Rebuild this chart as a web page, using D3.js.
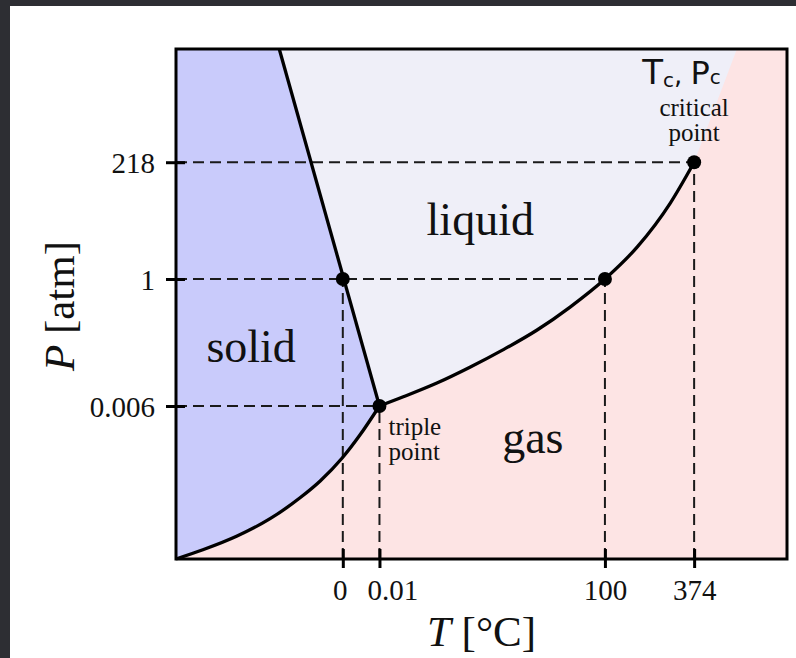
<!DOCTYPE html>
<html>
<head>
<meta charset="utf-8">
<script src="https://cdn.jsdelivr.net/npm/d3@7"></script>
<style>
  html, body { margin: 0; padding: 0; background: #2d2e33; }
  svg { display: block; }
  text { font-family: 'Liberation Serif', 'Times New Roman', serif; fill: #111; }
</style>
</head>
<body>
<figure id="phase" style="margin:0"></figure>
<script>
// schematic coordinates (0..100 on both axes)
const xTickPos = [27.3, 33.3, 70.2, 84.8];
const xTickLabels = ["0", "0.01", "100", "374"];
const yTickPos = [30.0, 54.9, 77.8];
const yTickLabels = ["0.006", "1", "218"];

// solid / gas boundary
const sublimation = [
  [0, 0], [4.4, 1.8], [10.0, 4.5], [15.4, 7.9], [20.3, 12.0],
  [23.6, 15.3], [27.2, 19.8], [30.1, 24.3], [33.3, 30.0]
];
// liquid / gas boundary
const vaporization = [
  [33.3, 30.0], [37.2, 31.8], [42.7, 34.5], [48.1, 37.6], [53.5, 41.0],
  [59.1, 44.9], [64.5, 49.4], [70.2, 54.9], [75.5, 61.2], [80.9, 69.8], [84.8, 77.8]
];
// solid / liquid boundary (straight)
const melting = [[33.3, 30.0], [16.9, 100]];
// edge of the liquid colour above the critical point
const supercritical = [[84.8, 77.8], [91.8, 100]];

// marked points: melting @1 atm, triple, boiling @1 atm, critical
const keyPoints = [[27.3, 54.9], [33.3, 30.0], [70.2, 54.9], [84.8, 77.8]];

const regionLabels = [
  { text: "solid", x: 12.3, y: 38.7 },
  { text: "liquid", x: 49.8, y: 63.5 },
  { text: "gas", x: 58.4, y: 20.8 }
];

const W = 796, H = 658;
const margin = { left: 176, top: 49, right: 9, bottom: 99 };
const width = W - margin.left - margin.right;
const height = H - margin.top - margin.bottom;

const colSolid = "#c9cbfb", colLiquid = "#efeff8", colGas = "#fde4e4";

const svg = d3.select("figure#phase")
  .append("svg")
  .attr("width", W)
  .attr("height", H);

// white sheet on the dark screenshot background
svg.append("rect")
  .attr("x", 10).attr("y", 6)
  .attr("width", W - 10).attr("height", H - 6)
  .attr("fill", "#ffffff");

const g = svg.append("g")
  .attr("transform", "translate(" + margin.left + "," + margin.top + ")");

const x = d3.scaleLinear().domain([0, 100]).range([0, width]);
const y = d3.scaleLinear().domain([0, 100]).range([height, 0]);

const curve = d3.line()
  .x(d => x(d[0]))
  .y(d => y(d[1]))
  .curve(d3.curveMonotoneX);
const straight = d3.line()
  .x(d => x(d[0]))
  .y(d => y(d[1]));

// regions
g.append("rect")
  .attr("width", width).attr("height", height)
  .attr("fill", colGas);

g.append("path")
  .attr("d", curve(sublimation) +
    "L" + x(melting[1][0]) + "," + y(melting[1][1]) +
    "L" + x(0) + "," + y(100) + "Z")
  .attr("fill", colSolid);

g.append("path")
  .attr("d", curve(vaporization) +
    "L" + x(supercritical[1][0]) + "," + y(supercritical[1][1]) +
    "L" + x(melting[1][0]) + "," + y(melting[1][1]) + "Z")
  .attr("fill", colLiquid);

// dashed guide lines
const guides = g.append("g")
  .attr("stroke", "#1a1a1a")
  .attr("stroke-width", 2)
  .attr("stroke-dasharray", "11,6")
  .attr("fill", "none");
keyPoints.forEach(p => {
  guides.append("path").attr("d", straight([[0, p[1]], p]));
  guides.append("path").attr("d", straight([[p[0], 0], p]));
});

// phase boundaries
[sublimation, vaporization].forEach(c => {
  g.append("path")
    .attr("d", curve(c))
    .attr("fill", "none")
    .attr("stroke", "#000")
    .attr("stroke-width", 3.3);
});
g.append("path")
  .attr("d", straight(melting))
  .attr("fill", "none")
  .attr("stroke", "#000")
  .attr("stroke-width", 3.3);

// frame
g.append("rect")
  .attr("width", width).attr("height", height)
  .attr("fill", "none")
  .attr("stroke", "#000")
  .attr("stroke-width", 3);

// axes
const xLabelShift = [-3, 13, 0, 0];
const xAxis = g.append("g")
  .attr("transform", "translate(0," + height + ")")
  .call(d3.axisBottom(x)
    .tickValues(xTickPos)
    .tickFormat((d, i) => xTickLabels[i])
    .tickSizeOuter(0));
xAxis.select(".domain").remove();
xAxis.selectAll(".tick line")
  .attr("y1", -10).attr("y2", 9)
  .attr("stroke", "#000").attr("stroke-width", 3);
xAxis.selectAll(".tick text")
  .attr("y", 41).attr("dy", 0)
  .attr("dx", (d, i) => xLabelShift[i])
  .style("font-family", "'Liberation Serif', serif")
  .style("font-size", "29px")
  .attr("fill", "#111");

const yAxis = g.append("g")
  .call(d3.axisLeft(y)
    .tickValues(yTickPos)
    .tickFormat((d, i) => yTickLabels[i])
    .tickSizeOuter(0));
yAxis.select(".domain").remove();
yAxis.selectAll(".tick line")
  .attr("x1", -10).attr("x2", 9)
  .attr("stroke", "#000").attr("stroke-width", 3);
yAxis.selectAll(".tick text")
  .attr("x", -21).attr("dy", "0.35em")
  .style("font-family", "'Liberation Serif', serif")
  .style("font-size", "29px")
  .attr("fill", "#111");

// key points
g.selectAll("circle.key")
  .data(keyPoints)
  .enter()
  .append("circle")
  .attr("class", "key")
  .attr("cx", d => x(d[0]))
  .attr("cy", d => y(d[1]))
  .attr("r", 7)
  .attr("fill", "#000");

// region names
g.selectAll("text.region")
  .data(regionLabels)
  .enter()
  .append("text")
  .attr("class", "region")
  .attr("x", d => x(d.x))
  .attr("y", d => y(d.y))
  .attr("text-anchor", "middle")
  .style("font-size", "46px")
  .text(d => d.text);

// point annotations
const triple = g.append("text")
  .attr("x", x(keyPoints[1][0]) + 9)
  .attr("y", y(keyPoints[1][1]) + 29)
  .style("font-size", "25px");
triple.append("tspan").text("triple");
triple.append("tspan").attr("x", x(keyPoints[1][0]) + 9).attr("dy", 25).text("point");

const crit = g.append("text")
  .attr("x", x(keyPoints[3][0]))
  .attr("y", y(keyPoints[3][1]) - 46)
  .attr("text-anchor", "middle")
  .style("font-size", "25px");
crit.append("tspan").text("critical");
crit.append("tspan").attr("x", x(keyPoints[3][0])).attr("dy", 25).text("point");

// handwritten note above the critical point
const note = g.append("text")
  .attr("x", x(keyPoints[3][0]) - 52)
  .attr("y", y(keyPoints[3][1]) - 78)
  .style("font-family", "'DejaVu Sans', sans-serif")
  .style("font-size", "34px");
note.append("tspan").text("T");
note.append("tspan").style("font-size", "20px").attr("dy", 3).text("c");
note.append("tspan").style("font-size", "26px").attr("dy", -3).text(", ");
note.append("tspan").style("font-size", "32px").text("P");
note.append("tspan").style("font-size", "20px").text("c");

// axis titles
const xt = svg.append("text")
  .attr("x", margin.left + width / 2)
  .attr("y", 646)
  .attr("text-anchor", "middle")
  .style("font-size", "43px");
xt.append("tspan").style("font-style", "italic").text("T");
xt.append("tspan").text(" [°C]");

const yt = svg.append("text")
  .attr("transform", "translate(74," + 306 + ") rotate(-90)")
  .attr("text-anchor", "middle")
  .style("font-size", "43px");
yt.append("tspan").style("font-style", "italic").text("P");
yt.append("tspan").text(" [atm]");
</script>
</body>
</html>
